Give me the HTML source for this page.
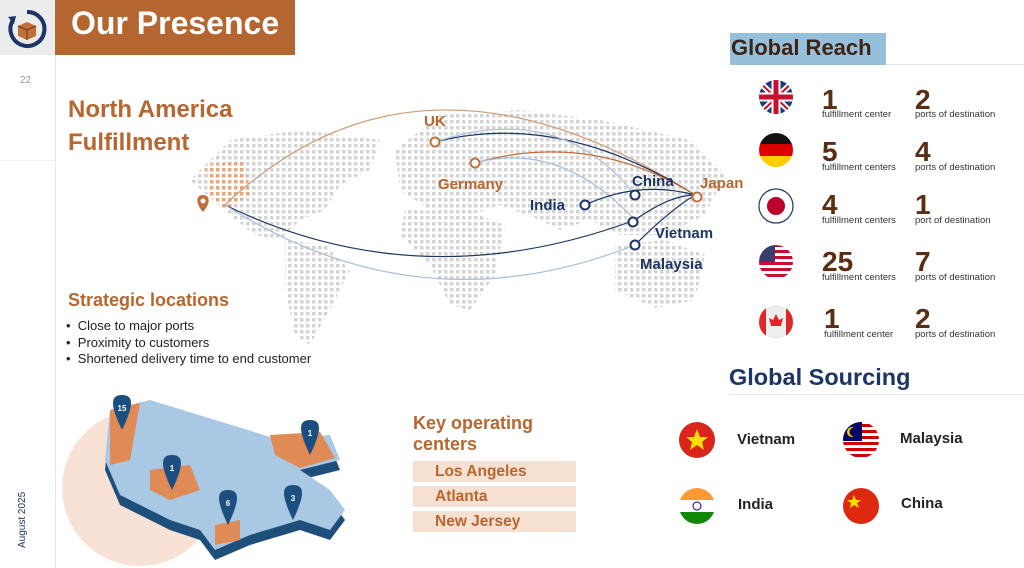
<!DOCTYPE html>
<html><head><meta charset="utf-8"><style>
*{margin:0;padding:0;box-sizing:border-box}
body{width:1024px;height:568px;overflow:hidden;background:#fff;font-family:"Liberation Sans",sans-serif;position:relative}
.a{position:absolute;white-space:nowrap}
.br{color:#b8662f;font-weight:bold}
.nv{color:#1c3566;font-weight:bold}
.num{font-size:28px;font-weight:900;color:#5a2e12;line-height:24px}
.sm{font-size:9.5px;color:#333}
.kc{position:absolute;left:413px;width:163px;height:21px;background:#f5e0d2;color:#b8662f;font-weight:bold;font-size:15.5px;padding-left:22px;line-height:21px}
.fl{position:absolute;width:36px;height:36px;border-radius:50%;overflow:hidden}
</style></head><body>
<div class="a" style="left:0;top:0;width:55px;height:55px;background:#ececec"></div>
<div class="a" style="left:55px;top:0;width:1px;height:568px;background:#e6e6e6"></div>
<div class="a" style="left:0;top:160px;width:55px;height:1px;background:#f0f0f0"></div>
<svg class="a" style="left:5px;top:8px" width="44" height="42" viewBox="0 0 44 42"><path d="M8 12 A17 17 0 1 0 22 4" fill="none" stroke="#1c3566" stroke-width="4"/><path d="M3 9 L11 8 L9 16Z" fill="#1c3566"/><path d="M13 18 L22 14 L31 18 L31 28 L22 32 L13 28Z" fill="#c2703a"/><path d="M13 18 L22 22 L31 18 M22 22 V32" stroke="#6b3512" fill="none"/></svg>
<div class="a" style="left:55px;top:0;width:240px;height:55px;background:#b5652f"></div>
<div class="a" style="left:71px;top:5px;color:#fff;font-size:32px;font-weight:bold">Our Presence</div>
<div class="a" style="left:20px;top:75px;font-size:10px;color:#999">22</div>
<div class="a" style="left:17px;top:548px;font-size:10px;color:#1c3566;transform:rotate(-90deg);transform-origin:0 0">August 2025</div>
<div class="a br" style="left:68px;top:93px;font-size:24px;line-height:33px">North America<br>Fulfillment</div>

<svg class="a" style="left:180px;top:60px" width="560" height="290" viewBox="180 60 560 290">
<defs><pattern id="d" width="6" height="6" patternUnits="userSpaceOnUse"><rect width="3.5" height="3.5" fill="#d4d4d4"/></pattern>
<pattern id="o" width="6" height="6" patternUnits="userSpaceOnUse"><rect width="3.5" height="3.5" fill="#e9a57a"/></pattern></defs>
<path d="M190 180 L230 140 L300 130 L380 140 L370 170 L340 185 L325 210 L300 220 L280 240 L255 235 L230 215 Z" fill="url(#d)"/>
<path d="M285 240 L325 245 L350 270 L335 300 L310 345 L295 335 L285 290 Z" fill="url(#d)"/>
<path d="M395 150 L440 115 L520 110 L600 120 L690 140 L725 175 L705 215 L665 235 L620 235 L590 220 L560 230 L540 220 L500 205 L470 215 L430 210 L400 190 Z" fill="url(#d)"/>
<path d="M405 210 L470 212 L505 225 L495 275 L470 310 L450 305 L430 265 L400 235Z" fill="url(#d)"/>
<path d="M615 245 L665 240 L705 255 L695 300 L655 308 L615 290Z" fill="url(#d)"/>
<path d="M205 165 L245 160 L250 195 L225 210 L210 195Z" fill="url(#o)"/>
<g fill="none" stroke-width="1.2">
<path d="M225 205 Q420 20 695 195" stroke="#d09a73"/>
<path d="M225 205 Q420 300 635 220" stroke="#1c3566"/>
<path d="M225 205 Q420 330 635 245" stroke="#a9bfd8"/>
<path d="M435 142 Q560 110 695 195" stroke="#1c3566"/>
<path d="M435 142 Q560 100 635 195" stroke="#b0c4dc"/>
<path d="M475 163 Q590 130 695 195" stroke="#c2703a"/>
<path d="M475 163 Q560 140 635 220" stroke="#a9bfd8"/>
<path d="M585 205 Q640 180 695 195" stroke="#1c3566"/>
<path d="M635 245 Q670 210 695 195" stroke="#1c3566"/>
<path d="M635 220 Q670 195 695 195" stroke="#1c3566"/>
</g>
<g fill="#fff" stroke-width="2">
<circle cx="435" cy="142" r="4.5" stroke="#c2703a"/><circle cx="475" cy="163" r="4.5" stroke="#c2703a"/>
<circle cx="585" cy="205" r="4.5" stroke="#1c3566"/><circle cx="635" cy="195" r="4.5" stroke="#1c3566"/>
<circle cx="633" cy="222" r="4.5" stroke="#1c3566"/><circle cx="635" cy="245" r="4.5" stroke="#1c3566"/>
<circle cx="697" cy="197" r="4.5" stroke="#c2703a"/></g>
<path d="M203 212 C195 203 196 195 203 195 C210 195 211 203 203 212Z" fill="#c2703a"/><circle cx="203" cy="201" r="2.5" fill="#fff"/>
</svg>
<div class="a br" style="left:424px;top:113px;font-size:15px">UK</div>
<div class="a br" style="left:438px;top:176px;font-size:15px">Germany</div>
<div class="a nv" style="left:530px;top:197px;font-size:15px">India</div>
<div class="a nv" style="left:632px;top:173px;font-size:15px">China</div>
<div class="a br" style="left:700px;top:175px;font-size:15px">Japan</div>
<div class="a nv" style="left:655px;top:225px;font-size:15px">Vietnam</div>
<div class="a nv" style="left:640px;top:256px;font-size:15px">Malaysia</div>

<div class="a br" style="left:68px;top:290px;font-size:18px">Strategic locations</div>
<div class="a" style="left:66px;top:318px;font-size:13px;color:#222;line-height:16.5px">• &nbsp;Close to major ports<br>• &nbsp;Proximity to customers<br>• &nbsp;Shortened delivery time to end customer</div>

<svg class="a" style="left:55px;top:390px" width="310" height="178" viewBox="55 390 310 178">
<circle cx="140" cy="488" r="78" fill="#f7e2d5"/>
<path d="M110 420 L150 410 L280 450 L330 445 L340 470 L300 480 L330 500 L345 520 L330 540 L300 530 L250 545 L215 560 L200 540 L170 530 L120 505 L105 470Z" fill="#1e4f7a"/>
<path d="M110 410 L150 400 L280 440 L330 435 L340 460 L300 470 L330 490 L345 510 L330 530 L300 520 L250 535 L215 550 L200 530 L170 520 L120 495 L105 460Z" fill="#a8c8e3"/>
<path d="M110 410 L140 403 L130 460 L110 465Z" fill="#e08a55"/>
<path d="M150 470 L190 465 L200 490 L170 500 L150 490Z" fill="#e08a55"/>
<path d="M270 435 L320 432 L335 458 L300 468 L275 455Z" fill="#e08a55"/>
<path d="M215 525 L240 520 L240 540 L215 545Z" fill="#e08a55"/>
<g fill="#1c4f80"><path d="M122 430 C110 405 110 395 122 395 C134 395 134 405 122 430Z"/><path d="M172 490 C160 465 160 455 172 455 C184 455 184 465 172 490Z"/><path d="M310 455 C298 430 298 420 310 420 C322 420 322 430 310 455Z"/><path d="M228 525 C216 500 216 490 228 490 C240 490 240 500 228 525Z"/><path d="M293 520 C281 495 281 485 293 485 C305 485 305 495 293 520Z"/></g>
<g fill="#fff" font-size="8" font-weight="bold" text-anchor="middle" font-family="Liberation Sans"><text x="122" y="411">15</text><text x="172" y="471">1</text><text x="310" y="436">1</text><text x="228" y="506">6</text><text x="293" y="501">3</text></g>
</svg>

<div class="a br" style="left:413px;top:413px;font-size:18px;line-height:21px">Key operating<br>centers</div>
<div class="kc" style="top:461px">Los Angeles</div>
<div class="kc" style="top:486px">Atlanta</div>
<div class="kc" style="top:511px">New Jersey</div>

<div class="a" style="left:730px;top:33px;width:156px;height:32px;background:#95bfda"></div>
<div class="a" style="left:731px;top:35px;font-size:22px;font-weight:bold;color:#3b2414">Global Reach</div>
<div class="a" style="left:886px;top:64px;width:138px;height:1px;background:#e6e6e6"></div>

<svg class="a" style="left:755px;top:78px" width="42" height="265" viewBox="0 0 42 265">
<defs><clipPath id="c1"><circle cx="21" cy="19" r="17"/></clipPath><clipPath id="c2"><circle cx="21" cy="72" r="17"/></clipPath><clipPath id="c4"><circle cx="21" cy="184" r="17"/></clipPath><clipPath id="c5"><circle cx="21" cy="244" r="17"/></clipPath></defs>
<g clip-path="url(#c1)"><rect y="0" width="42" height="40" fill="#1f3a78"/><path d="M0 0L42 40M42 0L0 40" stroke="#fff" stroke-width="6"/><path d="M0 0L42 40M42 0L0 40" stroke="#c8102e" stroke-width="2"/><path d="M21 0V40M0 19H42" stroke="#fff" stroke-width="9"/><path d="M21 0V40M0 19H42" stroke="#c8102e" stroke-width="5"/></g>
<g clip-path="url(#c2)"><rect y="54" width="42" height="12" fill="#111"/><rect y="66" width="42" height="12" fill="#dd0000"/><rect y="78" width="42" height="14" fill="#ffce00"/></g>
<circle cx="21" cy="128" r="17" fill="#fff" stroke="#1c3566" stroke-width="1.2"/><circle cx="21" cy="128" r="9" fill="#bc002d"/>
<g clip-path="url(#c4)"><rect y="166" width="42" height="36" fill="#fff"/><g fill="#c8102e"><rect y="166" width="42" height="3"/><rect y="172" width="42" height="3"/><rect y="178" width="42" height="3"/><rect y="184" width="42" height="3"/><rect y="190" width="42" height="3"/><rect y="196" width="42" height="3"/></g><rect y="166" width="20" height="18" fill="#3c3b6e"/></g>
<g clip-path="url(#c5)"><rect y="226" width="42" height="36" fill="#eee"/><rect y="226" width="11" height="36" fill="#e0262b"/><rect x="31" y="226" width="11" height="36" fill="#e0262b"/><path d="M21 236 L24 242 L28 240 L26 248 L16 248 L14 240 L18 242Z" fill="#e0262b"/></g>
</svg>

<div class="a num" style="left:822px;top:88px">1</div><div class="a sm" style="left:822px;top:109px">fulfillment center</div>
<div class="a num" style="left:915px;top:88px">2</div><div class="a sm" style="left:915px;top:109px">ports of destination</div>
<div class="a num" style="left:822px;top:140px">5</div><div class="a sm" style="left:822px;top:162px">fulfillment centers</div>
<div class="a num" style="left:915px;top:140px">4</div><div class="a sm" style="left:915px;top:162px">ports of destination</div>
<div class="a num" style="left:822px;top:193px">4</div><div class="a sm" style="left:822px;top:215px">fulfillment centers</div>
<div class="a num" style="left:915px;top:193px">1</div><div class="a sm" style="left:915px;top:215px">port of destination</div>
<div class="a num" style="left:822px;top:250px">25</div><div class="a sm" style="left:822px;top:272px">fulfillment centers</div>
<div class="a num" style="left:915px;top:250px">7</div><div class="a sm" style="left:915px;top:272px">ports of destination</div>
<div class="a num" style="left:824px;top:307px">1</div><div class="a sm" style="left:824px;top:329px">fulfillment center</div>
<div class="a num" style="left:915px;top:307px">2</div><div class="a sm" style="left:915px;top:329px">ports of destination</div>

<div class="a nv" style="left:729px;top:364px;font-size:23.5px;color:#1c3566">Global Sourcing</div>
<div class="a" style="left:729px;top:394px;width:295px;height:1px;background:#e6e6e6"></div>

<div class="fl" style="left:679px;top:422px;background:#da251d"><svg width="36" height="36"><path d="M18 7 L21 15 L29 15 L23 20 L25 28 L18 23 L11 28 L13 20 L7 15 L15 15Z" fill="#ffde00"/></svg></div>
<div class="fl" style="left:679px;top:488px"><svg width="36" height="36"><rect width="36" height="12" fill="#f93"/><rect y="12" width="36" height="12" fill="#fff"/><rect y="24" width="36" height="12" fill="#138808"/><circle cx="18" cy="18" r="4" fill="none" stroke="#008"/></svg></div>
<div class="fl" style="left:843px;top:422px"><svg width="36" height="36"><rect width="36" height="36" fill="#fff"/><g fill="#cc0001"><rect y="2" width="36" height="3"/><rect y="8" width="36" height="3"/><rect y="14" width="36" height="3"/><rect y="20" width="36" height="3"/><rect y="26" width="36" height="3"/><rect y="32" width="36" height="3"/></g><rect width="19" height="19" fill="#010066"/><circle cx="9" cy="10" r="5" fill="#fc0"/><circle cx="11" cy="10" r="4.5" fill="#010066"/></svg></div>
<div class="fl" style="left:843px;top:488px;background:#de2910"><svg width="36" height="36"><path d="M11 7 L13 12 L18 12 L14 15 L16 20 L11 17 L7 20 L8 15 L4 12 L9 12Z" fill="#ffde00"/></svg></div>

<div class="a" style="left:737px;top:431px;font-size:15px;font-weight:bold;color:#222">Vietnam</div>
<div class="a" style="left:900px;top:430px;font-size:15px;font-weight:bold;color:#222">Malaysia</div>
<div class="a" style="left:738px;top:496px;font-size:15px;font-weight:bold;color:#222">India</div>
<div class="a" style="left:901px;top:495px;font-size:15px;font-weight:bold;color:#222">China</div>
</body></html>
